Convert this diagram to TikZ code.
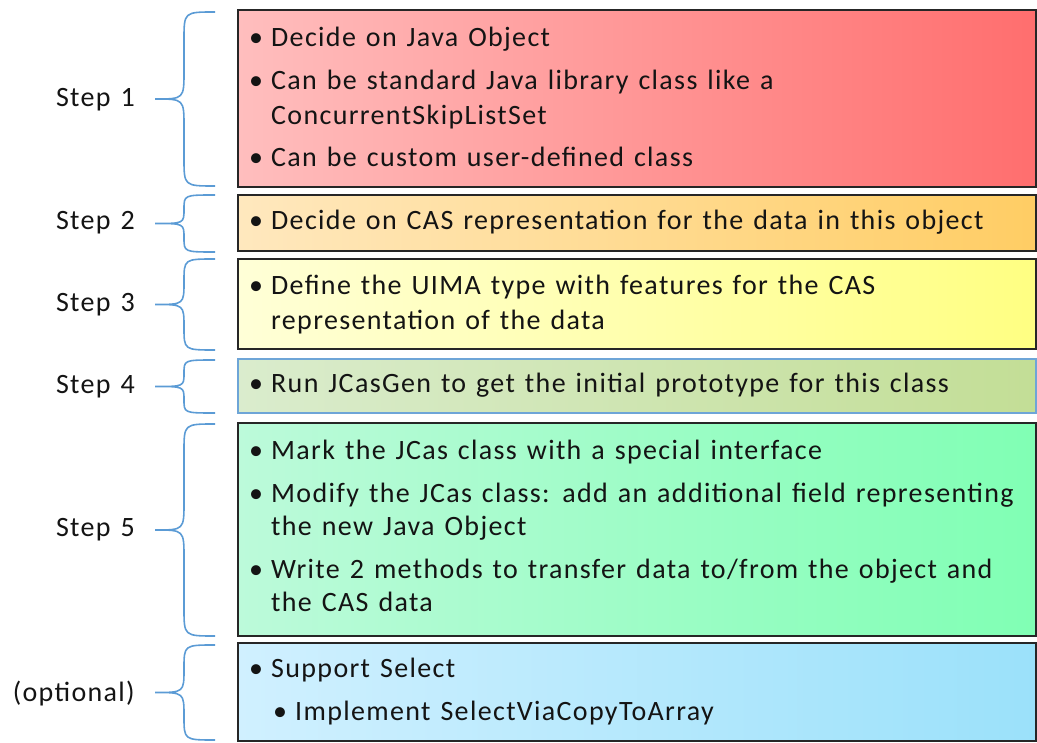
\documentclass[tikz,border=0pt]{standalone}
\usepackage{fontspec}
\setmainfont{Carlito}[LetterSpace=4.8,WordSpace=1.3]
\definecolor{brcol}{RGB}{91,155,213}
\definecolor{txtcol}{RGB}{20,20,20}
\definecolor{aL}{RGB}{255,190,190}\definecolor{aR}{RGB}{255,110,110}
\definecolor{bL}{RGB}{255,232,190}\definecolor{bR}{RGB}{255,205,100}
\definecolor{cL}{RGB}{255,255,215}\definecolor{cR}{RGB}{255,255,130}
\definecolor{dL}{RGB}{218,236,205}\definecolor{dR}{RGB}{195,222,150}
\definecolor{dB}{RGB}{110,165,215}
\definecolor{eL}{RGB}{188,250,218}\definecolor{eR}{RGB}{128,255,180}
\definecolor{fL}{RGB}{208,240,255}\definecolor{fR}{RGB}{155,225,250}
\newcommand\mybrace[2]{%
  \pgfmathsetmacro\ym{(#1+#2)/2}%
  \pgfmathsetmacro\hh{min(28,(#2-#1)/4)}%
  \draw[brc] (215,#1) .. controls (184,#1) .. (184,{#1+\hh}) -- (184,{\ym-\hh})
    .. controls (184,\ym) .. (155,\ym) .. controls (184,\ym) .. (184,{\ym+\hh})
    -- (184,{#2-\hh}) .. controls (184,#2) .. (215,#2);}
\begin{document}
\begin{tikzpicture}[x=1pt,y=-1pt,
  brc/.style={draw=brcol,line width=1.6pt},
  stepbox/.style={draw=black!85,line width=1.8pt},
  txt/.style={anchor=base west,inner sep=0pt,text=txtcol,font=\fontsize{28}{34}\selectfont},
  lbl/.style={anchor=base east,inner sep=0pt,text=txtcol,font=\fontsize{28}{34}\selectfont}]
\useasboundingbox (0,0) rectangle (1037,743);
% boxes
\draw[stepbox,left color=aL,right color=aR] (238,10) rectangle (1036,187);
\draw[stepbox,left color=bL,right color=bR] (238,195) rectangle (1036,251);
\draw[stepbox,left color=cL,right color=cR] (238,259) rectangle (1036,349);
\draw[stepbox,draw=dB,line width=1.5pt,left color=dL,right color=dR] (238,359) rectangle (1036,413);
\draw[stepbox,left color=eL,right color=eR] (238,423) rectangle (1036,636);
\draw[stepbox,left color=fL,right color=fR] (238,643) rectangle (1036,741);
% braces
\mybrace{12}{186}
\mybrace{195}{252}
\mybrace{259}{350}
\mybrace{360}{413}
\mybrace{424}{636}
\mybrace{645}{740}
% labels
\node[lbl] (l1) at (135,107) {Step 1};
\node[lbl] (l2) at (135,230) {Step 2};
\node[lbl] (l3) at (135,312) {Step 3};
\node[lbl] (l4) at (135,394) {Step 4};
\node[lbl] (l5) at (135,536) {Step 5};
\node[lbl] (l6) at (135,701) {(optional)};
% bullets
\foreach \y/\n in {47/b1,90/b2,167/b3,230/b4,295/b5,393/b6,460/b7,502/b8,578/b9,677/b10}
  \node[txt] (\n) at (249,\y) {•};
\node[txt] (b11) at (273,720) {•};
% texts
\node[txt] (t1) at (271,47) {Decide on Java Object};
\node[txt] (t2) at (271,90) {Can be standard Java library class like a};
\node[txt] (t3) at (271,125) {ConcurrentSkipListSet};
\node[txt] (t4) at (271,167) {Can be custom user-defined class};
\node[txt] (t5) at (271,230) {Decide on CAS representation for the data in this object};
\node[txt] (t6) at (271,295) {Define the UIMA type with features for the CAS};
\node[txt] (t7) at (271,330) {representation of the data};
\node[txt] (t8) at (271,393) {Run JCasGen to get the initial prototype for this class};
\node[txt] (t9) at (271,460) {Mark the JCas class with a special interface};
\node[txt] (t10) at (271,502) {Modify the JCas class: add an additional field representing};
\node[txt] (t11) at (271,535) {the new Java Object};
\node[txt] (t12) at (271,578) {Write 2 methods to transfer data to/from the object and};
\node[txt] (t13) at (271,611) {the CAS data};
\node[txt] (t14) at (271,677) {Support Select};
\node[txt] (t15) at (295,720) {Implement SelectViaCopyToArray};
\end{tikzpicture}
\end{document}
